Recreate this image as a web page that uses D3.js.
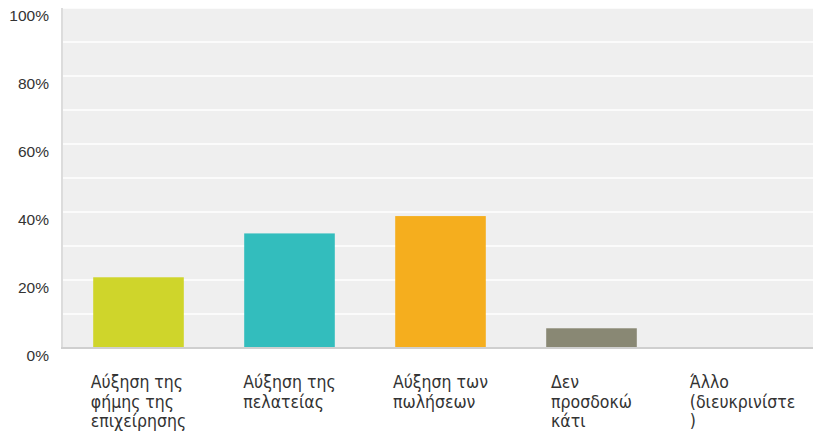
<!DOCTYPE html>
<html>
<head>
<meta charset="utf-8">
<script src="https://cdn.jsdelivr.net/npm/d3@7"></script>
<style>
  html, body { margin: 0; padding: 0; background: #fff; }
  svg { display: block; }
</style>
</head>
<body>
<svg id="chart" width="813" height="432"></svg>
<script>
// Survey answers: expected outcome
const categories = [
  ["Αύξηση της", "φήμης της", "επιχείρησης"],
  ["Αύξηση της", "πελατείας"],
  ["Αύξηση των", "πωλήσεων"],
  ["Δεν", "προσδοκώ", "κάτι"],
  ["Άλλο", "(διευκρινίστε", ")"]
];
const values = [20.8, 33.7, 38.8, 5.8, 0];
const colors = ["#cfd52b", "#33bdbd", "#f5ae1e", "#898874", "#8a8a8a"];
const yTicks = [0, 20, 40, 60, 80, 100];
const gridStep = [0, 10, 20, 30, 40, 50, 60, 70, 80, 90, 100];

const svg = d3.select("#chart");
const plot = { left: 62, right: 813, top: 8, bottom: 348 };

const y = d3.scaleLinear().domain([0, 100]).range([plot.bottom, plot.top]);
const x = d3.scaleBand()
  .domain(d3.range(categories.length))
  .range([63, 818])
  .paddingInner(0.4)
  .paddingOuter(0.2);

// plot background
svg.append("rect")
  .attr("x", plot.left).attr("y", plot.top)
  .attr("width", plot.right - plot.left).attr("height", plot.bottom - plot.top)
  .attr("fill", "#efefef");

// white gridlines every 10%
svg.append("g").selectAll("line")
  .data(gridStep.filter(d => d > 0))
  .join("line")
  .attr("x1", plot.left).attr("x2", plot.right)
  .attr("y1", d => y(d)).attr("y2", d => y(d))
  .attr("stroke", "#ffffff").attr("stroke-width", 1.5);

// left axis rule
svg.append("line")
  .attr("x1", plot.left).attr("x2", plot.left)
  .attr("y1", plot.top).attr("y2", plot.bottom)
  .attr("stroke", "#dcdcdc").attr("stroke-width", 2);

// bars
svg.append("g").selectAll("rect")
  .data(values)
  .join("rect")
  .attr("x", (d, i) => x(i))
  .attr("width", x.bandwidth())
  .attr("y", d => y(d))
  .attr("height", d => y(0) - y(d))
  .attr("fill", (d, i) => colors[i]);

// bottom axis rule
svg.append("line")
  .attr("x1", plot.left - 1).attr("x2", plot.right)
  .attr("y1", plot.bottom).attr("y2", plot.bottom)
  .attr("stroke", "#cfcfcf").attr("stroke-width", 2);

// y-axis labels (drawn just below each gridline)
const yAxis = d3.axisLeft(y).tickValues(yTicks).tickFormat(d => d + "%").tickSize(0).tickPadding(13);
const ya = svg.append("g").attr("transform", `translate(${plot.left},8)`).call(yAxis);
ya.select(".domain").remove();
ya.selectAll("text")
  .attr("font-family", "Arial, 'Liberation Sans', sans-serif")
  .attr("font-size", 15.5)
  .attr("fill", "#333");

// category labels, wrapped lines, block centred under each bar
const lab = svg.append("g")
  .attr("font-family", "'DejaVu Sans Condensed', 'DejaVu Sans', sans-serif")
  .attr("font-stretch", "condensed")
  .attr("font-size", 17.5)
  .attr("fill", "#333");
categories.forEach((lines, i) => {
  const t = lab.append("text").attr("y", 388);
  lines.forEach((ln, j) => {
    t.append("tspan").attr("dy", j === 0 ? 0 : 19.5).text(ln);
  });
  let w = 0;
  t.selectAll("tspan").each(function () { w = Math.max(w, this.getComputedTextLength()); });
  const cx = x(i) + x.bandwidth() / 2;
  t.selectAll("tspan").attr("x", cx - w / 2);
});
</script>
</body>
</html>
